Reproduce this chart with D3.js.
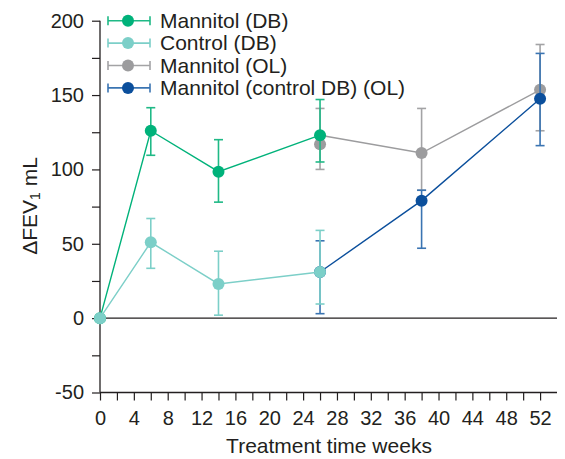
<!DOCTYPE html>
<html>
<head>
<meta charset="utf-8">
<script src="https://cdn.jsdelivr.net/npm/d3@7"></script>
<style>
  body { margin: 0; background: #fff; }
  svg { display: block; font-family: "Liberation Sans", Arial, sans-serif; }
</style>
</head>
<body>
<div id="chart"></div>
<script>
// double-blind phase
var weeksDB = [0, 6, 14, 26];
var mannitolDB = [0, 126, 98.5, 123];
var mannitolDBLow = [null, 109.5, 78, 105];
var mannitolDBHigh = [null, 141.5, 120, 147];
var controlDB = [0, 51, 23, 31];
var controlDBLow = [null, 33.5, 2, 9.5];
var controlDBHigh = [null, 67, 45, 59];

// open-label phase
var weeksOL = [26, 38, 52];
var mannitolOL = [117, 111, 153.5];
var mannitolOLLow = [100, 86, 126];
var mannitolOLHigh = [141, 141, 184];
var controlOL = [31, 79, 147.5];
var controlOLLow = [3, 47, 116];
var controlOLHigh = [52, 86, 178];

var seriesNames = ["Mannitol (DB)", "Control (DB)", "Mannitol (OL)", "Mannitol (control DB) (OL)"];
var xTicks = d3.range(0, 54, 2);
var xLabels = d3.range(0, 53, 4);
var yTicks = d3.range(-50, 201, 25);
var yLabels = [-50, 0, 50, 100, 150, 200];

var W = 565, H = 459;
var ink = "#231f20";
var colors = {
  "Mannitol (DB)": { dot: "#00b27a", bar: "#1fb986" },
  "Control (DB)": { dot: "#7ccfc8", bar: "#7ccfc8" },
  "Mannitol (OL)": { dot: "#9c9c9e", bar: "#a3a3a5" },
  "Mannitol (control DB) (OL)": { dot: "#0b4f9c", bar: "#3a74b2" }
};

var x = d3.scaleLinear().domain([0, 54]).range([100, 557]);
var y = d3.scaleLinear().domain([-50, 200]).range([392.5, 20.7]);

var svg = d3.select("#chart").append("svg")
  .attr("width", W)
  .attr("height", H);

// y axis
var yAxis = svg.append("g").attr("transform", `translate(${x(0)},0)`)
  .call(d3.axisLeft(y).tickValues(yTicks).tickSize(8)
    .tickFormat(d => yLabels.includes(d) ? d : ""));
yAxis.select(".domain").attr("stroke", ink).attr("stroke-width", 1.3)
  .attr("d", `M0,${y(200)}V${y(-50)}`);
yAxis.selectAll(".tick line").attr("stroke", ink).attr("stroke-width", 1.2);
yAxis.selectAll(".tick text").attr("fill", ink).attr("font-size", 20)
  .attr("font-family", "Liberation Sans, Arial, sans-serif").attr("x", -16);

// x axis
var xAxis = svg.append("g").attr("transform", `translate(0,${y(-50)})`)
  .call(d3.axisBottom(x).tickValues(xTicks).tickSize(8)
    .tickFormat(d => xLabels.includes(d) ? d : ""));
xAxis.select(".domain").attr("stroke", ink).attr("stroke-width", 1.3)
  .attr("d", `M${x(0)},0H${x(54)}`);
xAxis.selectAll(".tick line").attr("stroke", ink).attr("stroke-width", 1.2);
xAxis.selectAll(".tick text").attr("fill", ink).attr("font-size", 20)
  .attr("font-family", "Liberation Sans, Arial, sans-serif").attr("y", 18);

// zero line
svg.append("line")
  .attr("x1", x(0)).attr("x2", x(54))
  .attr("y1", y(0)).attr("y2", y(0))
  .attr("stroke", ink).attr("stroke-width", 1.3);

// axis titles
svg.append("text")
  .attr("x", 329)
  .attr("y", 453)
  .attr("text-anchor", "middle")
  .attr("font-size", 21)
  .attr("fill", ink)
  .text("Treatment time weeks");

var yTitle = svg.append("text")
  .attr("transform", `translate(37,${206}) rotate(-90)`)
  .attr("text-anchor", "middle")
  .attr("font-size", 21)
  .attr("fill", ink);
yTitle.append("tspan").text("\u0394FEV");
yTitle.append("tspan").attr("font-size", 14).attr("dy", 3).text("1");
yTitle.append("tspan").attr("dy", -3).text(" mL");

function toPoints(weeks, vals, lows, highs) {
  return weeks.map((w, i) => ({ w: w, v: vals[i], lo: lows[i], hi: highs[i] }));
}

function drawSeries(name, linePts, pts) {
  var c = colors[name];
  var g = svg.append("g");
  g.append("path")
    .datum(linePts)
    .attr("fill", "none")
    .attr("stroke", c.dot)
    .attr("stroke-width", 1.4)
    .attr("d", d3.line().x(d => x(d.w)).y(d => y(d.v)));
  var bars = pts.filter(d => d.lo != null);
  g.selectAll("line.bar").data(bars).join("line")
    .attr("class", "bar")
    .attr("x1", d => x(d.w)).attr("x2", d => x(d.w))
    .attr("y1", d => y(d.lo)).attr("y2", d => y(d.hi))
    .attr("stroke", c.bar).attr("stroke-width", 1.6);
  g.selectAll("line.capLo").data(bars).join("line")
    .attr("class", "capLo")
    .attr("x1", d => x(d.w) - 4.5).attr("x2", d => x(d.w) + 4.5)
    .attr("y1", d => y(d.lo)).attr("y2", d => y(d.lo))
    .attr("stroke", c.bar).attr("stroke-width", 1.6);
  g.selectAll("line.capHi").data(bars).join("line")
    .attr("class", "capHi")
    .attr("x1", d => x(d.w) - 4.5).attr("x2", d => x(d.w) + 4.5)
    .attr("y1", d => y(d.hi)).attr("y2", d => y(d.hi))
    .attr("stroke", c.bar).attr("stroke-width", 1.6);
  g.selectAll("circle").data(pts).join("circle")
    .attr("cx", d => x(d.w)).attr("cy", d => y(d.v))
    .attr("r", 6)
    .attr("fill", c.dot);
}

var dbM = toPoints(weeksDB, mannitolDB, mannitolDBLow, mannitolDBHigh);
var dbC = toPoints(weeksDB, controlDB, controlDBLow, controlDBHigh);
var olM = toPoints(weeksOL, mannitolOL, mannitolOLLow, mannitolOLHigh);
var olC = toPoints(weeksOL, controlOL, controlOLLow, controlOLHigh);

// open-label lines continue from the last double-blind point
drawSeries("Mannitol (OL)", [dbM[dbM.length - 1]].concat(olM.slice(1)), olM);
drawSeries("Mannitol (control DB) (OL)", [dbC[dbC.length - 1]].concat(olC.slice(1)), olC);
drawSeries("Mannitol (DB)", dbM, dbM);
drawSeries("Control (DB)", dbC, dbC);

// legend
var legend = svg.append("g").attr("transform", "translate(108,20.7)");
var rows = legend.selectAll("g").data(seriesNames).join("g")
  .attr("transform", (d, i) => `translate(0,${i * 22.4})`);
rows.append("line").attr("x1", 0).attr("x2", 42).attr("y1", 0).attr("y2", 0)
  .attr("stroke", d => colors[d].bar).attr("stroke-width", 1.6);
rows.append("line").attr("x1", 0).attr("x2", 0).attr("y1", -4.5).attr("y2", 4.5)
  .attr("stroke", d => colors[d].bar).attr("stroke-width", 1.6);
rows.append("line").attr("x1", 42).attr("x2", 42).attr("y1", -4.5).attr("y2", 4.5)
  .attr("stroke", d => colors[d].bar).attr("stroke-width", 1.6);
rows.append("circle").attr("cx", 20).attr("cy", 0).attr("r", 6)
  .attr("fill", d => colors[d].dot);
rows.append("text").attr("x", 52).attr("y", 0).attr("dy", "0.35em")
  .attr("font-size", 21).attr("fill", ink)
  .text(d => d);
</script>
</body>
</html>
